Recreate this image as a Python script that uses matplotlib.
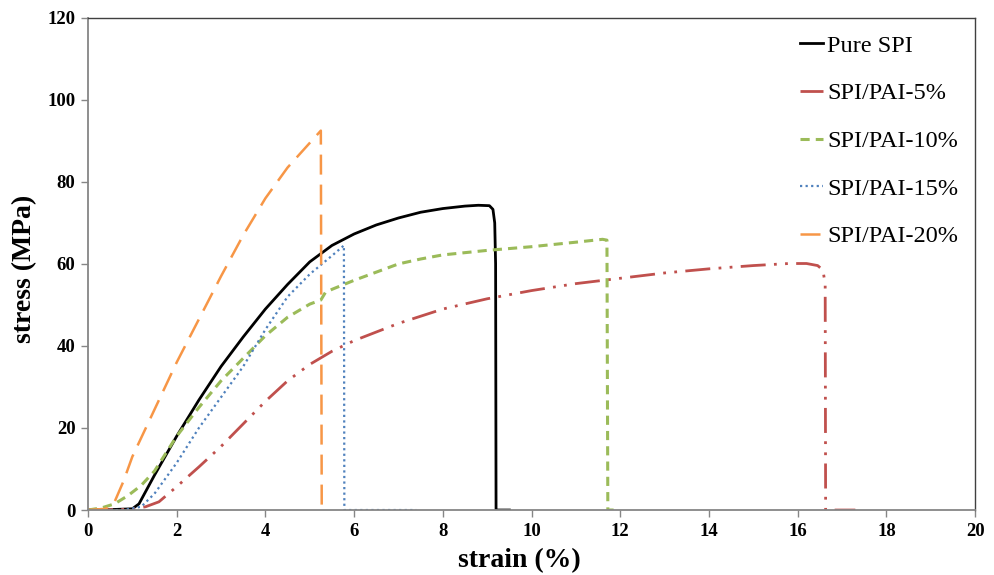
import matplotlib
matplotlib.use("Agg")
import matplotlib.pyplot as plt

# stress-strain curves (strain %, stress MPa)
pure_x = [0, 0.5, 1.0, 1.15, 1.5, 2.0, 2.5, 3.0, 3.5, 4.0, 4.5, 5.0, 5.5, 6.0, 6.5, 7.0, 7.5, 8.0, 8.5, 8.8, 9.05, 9.13, 9.17, 9.19, 9.2, 9.5]
pure_y = [0, 0.1, 0.3, 1.5, 8.5, 18, 26.8, 35, 42.2, 49, 55, 60.5, 64.5, 67.3, 69.5, 71.2, 72.6, 73.5, 74.1, 74.3, 74.2, 73.3, 70, 60, 0, 0]

pai5_x = [0, 1.0, 1.3, 1.6, 2.0, 2.5, 3.0, 3.5, 4.0, 4.5, 5.0, 5.5, 6.0, 7.0, 8.0, 9.0, 10.0, 11.0, 12.0, 13.0, 14.0, 15.0, 15.8, 16.2, 16.45, 16.57, 16.62, 16.63, 17.3]
pai5_y = [0, 0.2, 0.8, 2, 5.7, 10.5, 15.5, 21, 26.5, 31.5, 35.5, 38.7, 41.3, 45.5, 49, 51.5, 53.5, 55.2, 56.5, 57.8, 58.8, 59.6, 60.1, 60.1, 59.6, 58.5, 55, 0, 0]

pai10_x = [0, 0.3, 0.6, 0.9, 1.2, 1.5, 2.0, 2.5, 3.0, 3.5, 4.0, 4.5, 5.0, 5.25, 5.35, 5.5, 6.0, 6.5, 7.0, 7.5, 8.0, 9.0, 10.0, 11.0, 11.6, 11.7, 11.72, 11.85]
pai10_y = [0, 0.5, 1.5, 3.5, 6, 9.5, 18, 25, 31.5, 37, 42.5, 47, 50.2, 51.2, 53, 53.8, 56, 58, 60, 61.2, 62.2, 63.3, 64.2, 65.3, 66, 65.8, 0, 0]

pai15_x = [0, 0.8, 1.2, 1.5, 2.0, 2.5, 3.0, 3.5, 4.0, 4.5, 5.0, 5.5, 5.77, 5.78, 7.4]
pai15_y = [0, 0, 0.8, 4, 11.5, 20, 27.5, 35, 44, 52, 57.5, 62, 64.5, 0, 0]

pai20_x = [0, 0.4, 0.6, 0.8, 1.0, 1.5, 2.0, 2.5, 3.0, 3.5, 4.0, 4.5, 5.0, 5.25, 5.27]
pai20_y = [0, 0.3, 2, 7, 13, 24.5, 36, 46.5, 57, 67, 76, 83.5, 89.5, 92.5, 0]

labels = ["Pure SPI", "SPI/PAI-5%", "SPI/PAI-10%", "SPI/PAI-15%", "SPI/PAI-20%"]

plt.rcParams["font.family"] = ["Liberation Serif", "DejaVu Serif"]

fig = plt.figure(figsize=(9.94, 5.75), dpi=100)
ax = fig.add_axes([0.0885, 0.113, 0.8925, 0.856])

ax.plot(pure_x, pure_y, color="black", lw=2.0, ls="-", label=labels[0])
ax.plot(pai5_x, pai5_y, color="#C0504D", lw=2.0, ls=(0, (9, 3, 1, 3, 1, 3)), label=labels[1])
ax.plot(pai10_x, pai10_y, color="#9BBB59", lw=2.2, ls=(0, (3, 2)), label=labels[2])
ax.plot(pai15_x, pai15_y, color="#4F81BD", lw=1.6, ls=(0, (1, 1.5)), label=labels[3])
ax.plot(pai20_x, pai20_y, color="#F79646", lw=1.8, ls=(0, (8, 4)), label=labels[4])

ax.set_xlim(0, 20)
ax.set_ylim(0, 120)
ax.set_xticks(range(0, 21, 2))
ax.set_yticks(range(0, 121, 20))
for lab in ax.get_xticklabels() + ax.get_yticklabels():
    lab.set_fontweight("bold")
ax.tick_params(axis="both", labelsize=13.5, direction="out", length=5, width=1, color="#868686", pad=4)

for side in ["left", "bottom"]:
    ax.spines[side].set_color("#868686")
    ax.spines[side].set_linewidth(1.3)
for side in ["top", "right"]:
    ax.spines[side].set_color("#404040")
    ax.spines[side].set_linewidth(1.0)

ax.set_xlabel("strain (%)", fontsize=20, fontweight="bold", labelpad=6, x=0.486)
ax.set_ylabel("stress (MPa)", fontsize=20, fontweight="bold", labelpad=7, y=0.49)

leg = ax.legend(loc="upper left", bbox_to_anchor=(0.792, 0.985), frameon=False, fontsize=17.5,
                handlelength=0.95, handletextpad=0.15, labelspacing=1.05, borderaxespad=0)

fig.savefig("out.png", dpi=100)
